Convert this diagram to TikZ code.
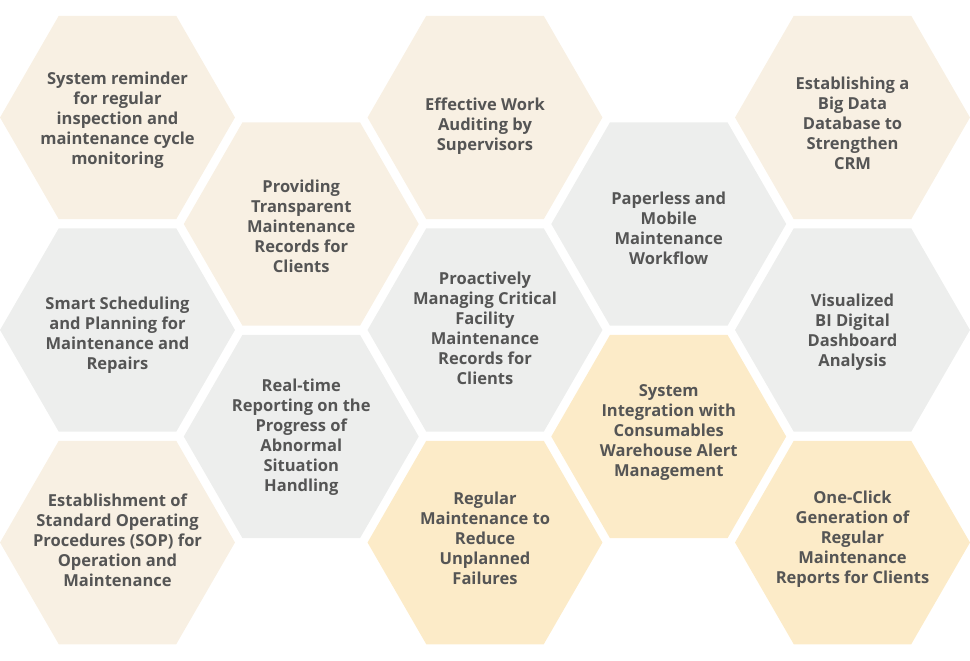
\documentclass[tikz,border=0pt]{standalone}
\usepackage{fontspec}
\setmainfont{Open Sans}
\usetikzlibrary{shapes.geometric}
\definecolor{beige}{HTML}{F8F0E3}
\definecolor{greyish}{HTML}{EDEEED}
\definecolor{sand}{HTML}{FCEBC8}
\definecolor{ink}{HTML}{555555}
\tikzset{
	hexa/.style={regular polygon, regular polygon sides=6, minimum size=4.7cm, inner sep=0pt, draw=none},
	lbl/.style={align=center, text=ink, font=\bfseries\fontsize{9.4}{11.4}\selectfont}
}

\begin{document}
\begin{tikzpicture}[x=0.02cm, y=-0.02cm]
		%%%%% START %%%%%
		
		\useasboundingbox (0, 0) rectangle (970, 660);
		
		% first column
		\node[hexa, fill=beige] (h11) at (117.5, 117.5) {};
		\node[lbl] (t11) at (117.5, 120.5) {System reminder\\for regular\\inspection and\\maintenance cycle\\monitoring};
		\node[hexa, fill=greyish] (h12) at (117.5, 330) {};
		\node[lbl] (t12) at (117.5, 335) {Smart Scheduling\\and Planning for\\Maintenance and\\Repairs};
		\node[hexa, fill=beige] (h13) at (117.5, 542.5) {};
		\node[lbl] (t13) at (117.5, 540.5) {Establishment of\\Standard Operating\\Procedures (SOP) for\\Operation and\\Maintenance};
		
		% second column
		\node[hexa, fill=beige] (h21) at (301.25, 224) {};
		\node[lbl] (t21) at (301.25, 226.5) {Providing\\Transparent\\Maintenance\\Records for\\Clients};
		\node[hexa, fill=greyish] (h22) at (301.25, 436.5) {};
		\node[lbl] (t22) at (301.25, 437.5) {Real-time\\Reporting on the\\Progress of\\Abnormal\\Situation\\Handling};
		
		% third column
		\node[hexa, fill=beige] (h31) at (485, 117.5) {};
		\node[lbl] (t31) at (485, 126.5) {Effective Work\\Auditing by\\Supervisors};
		\node[hexa, fill=greyish] (h32) at (485, 330) {};
		\node[lbl] (t32) at (485, 328.5) {Proactively\\Managing Critical\\Facility\\Maintenance\\Records for\\Clients};
		\node[hexa, fill=sand] (h33) at (485, 542.5) {};
		\node[lbl] (t33) at (485, 538.5) {Regular\\Maintenance to\\Reduce\\Unplanned\\Failures};
		
		% fourth column
		\node[hexa, fill=greyish] (h41) at (668.75, 224) {};
		\node[lbl] (t41) at (668.75, 228.5) {Paperless and\\Mobile\\Maintenance\\Workflow};
		\node[hexa, fill=sand] (h42) at (668.75, 436.5) {};
		\node[lbl] (t42) at (668.75, 432.5) {System\\Integration with\\Consumables\\Warehouse Alert\\Management};
		
		% fifth column
		\node[hexa, fill=beige] (h51) at (852.5, 117.5) {};
		\node[lbl] (t51) at (852.5, 123.5) {Establishing a\\Big Data\\Database to\\Strengthen\\CRM};
		\node[hexa, fill=greyish] (h52) at (852.5, 330) {};
		\node[lbl] (t52) at (852.5, 332) {Visualized\\BI Digital\\Dashboard\\Analysis};
		\node[hexa, fill=sand] (h53) at (852.5, 542.5) {};
		\node[lbl] (t53) at (852.5, 539.5) {One-Click\\Generation of\\Regular\\Maintenance\\Reports for Clients};
		
		%%%%% END %%%%%
	\end{tikzpicture}
\end{document}
